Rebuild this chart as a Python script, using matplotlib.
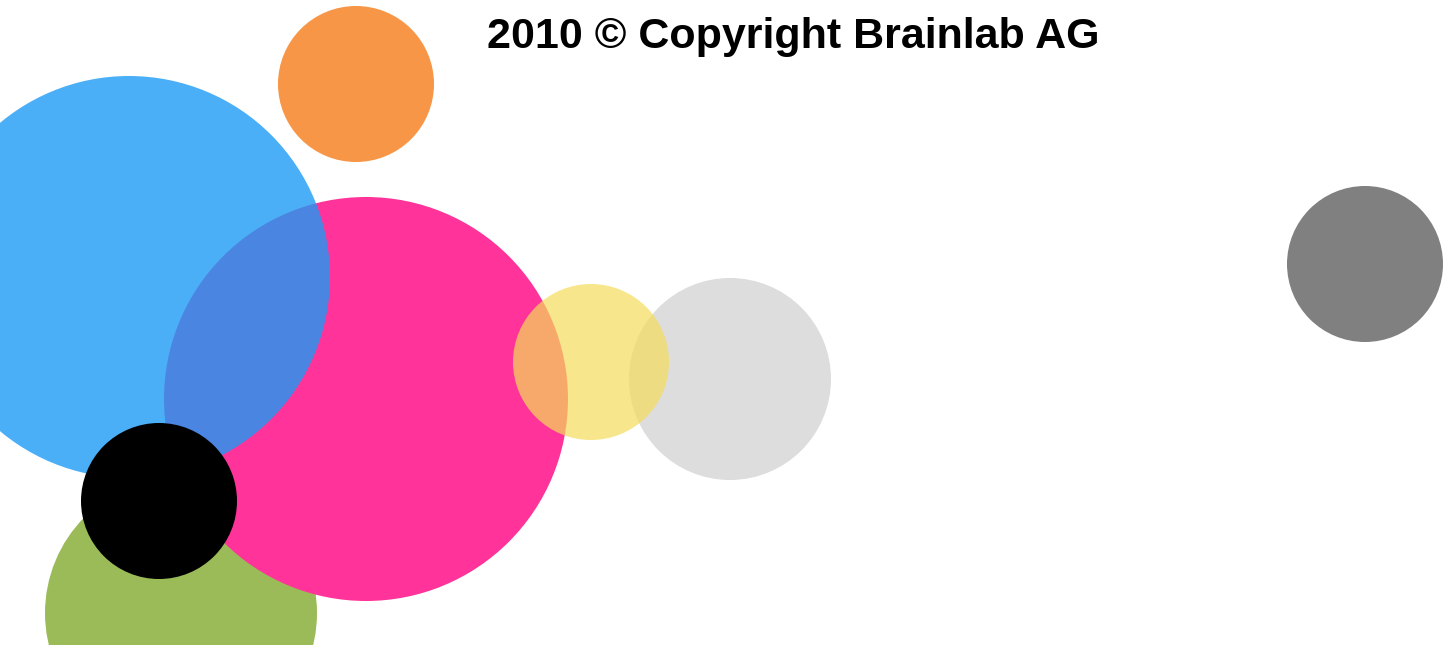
import matplotlib
matplotlib.use("Agg")
import matplotlib.pyplot as plt
from matplotlib.patches import Circle

# === Circle data (pixel units, y measured from top) ===
names = ["green", "pink", "blue", "black", "orange", "gray", "yellow", "darkgray"]
x_center = [181, 366, 129, 159, 356, 730, 591, 1365]
y_center = [613, 399, 277, 501, 84, 379, 362, 264]
radius = [136, 202, 201, 78, 78, 101, 78, 78]
colors = ["#9BBB59", "#FF3399", "#1E9BF5", "#000000", "#F79646", "#DDDDDD", "#F5DC5A", "#808080"]
alphas = [1.0, 1.0, 0.8, 1.0, 1.0, 1.0, 0.7, 1.0]

title = "2010 \u00a9 Copyright Brainlab AG"

# === Figure ===
W, H = 1452, 645
fig = plt.figure(figsize=(W / 100, H / 100), dpi=100)
ax = fig.add_axes([0, 0, 1, 1])
ax.set_xlim(0, W)
ax.set_ylim(H, 0)
ax.set_aspect("equal")
ax.axis("off")

for i in range(len(names)):
    c = Circle((x_center[i], y_center[i]), radius[i],
               facecolor=colors[i], edgecolor="none", alpha=alphas[i])
    ax.add_patch(c)

ax.text(793, 48, title, ha="center", va="baseline",
        fontsize=31, fontweight="bold", family=["Liberation Sans", "DejaVu Sans"])

fig.savefig("out.png", dpi=100)
